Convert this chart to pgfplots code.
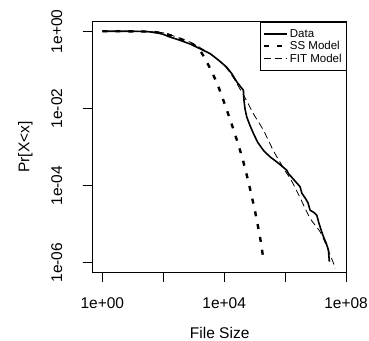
\documentclass[border=0pt]{standalone}
\usepackage{pgfplots}
\pgfplotsset{compat=1.18}
\usepackage{fontspec}
\setmainfont{Liberation Sans}
\pgfplotstableread{
lx ly
0 0
1.0 0
1.5 -0.01
1.8 -0.04
2.0 -0.08
2.22 -0.15
2.5 -0.22
2.88 -0.33
3.2 -0.45
3.54 -0.58
3.8 -0.74
4.08 -0.93
4.25 -1.1
4.42 -1.32
4.55 -1.45
4.63 -1.53
4.65 -1.79
4.68 -2.0
4.74 -2.22
4.85 -2.45
4.96 -2.65
5.1 -2.88
5.29 -3.09
5.51 -3.26
5.73 -3.39
5.9 -3.5
6.05 -3.6
6.11 -3.69
6.3 -3.86
6.49 -4.03
6.55 -4.2
6.68 -4.35
6.75 -4.45
6.82 -4.64
6.95 -4.7
7.04 -4.77
7.1 -4.95
7.18 -5.15
7.26 -5.33
7.35 -5.5
7.42 -5.67
7.45 -5.97
}\datatab
\pgfplotstableread{
lx ly
0 0
1 -0.002
1.5 -0.01
2 -0.05
2.44 -0.16
2.88 -0.3
3.05 -0.38
3.21 -0.5
3.37 -0.71
3.6 -1.06
3.8 -1.42
4.0 -1.85
4.2 -2.3
4.4 -2.78
4.6 -3.3
4.8 -3.92
5.0 -4.62
5.1 -5.02
5.2 -5.45
5.29 -5.93
}\sstab
\pgfplotstableread{
lx ly
0 0
1 -0.002
1.5 -0.01
2 -0.04
2.44 -0.15
2.88 -0.28
3.2 -0.42
3.6 -0.62
4.0 -0.88
4.3 -1.2
4.52 -1.5
4.75 -1.82
4.96 -2.14
5.29 -2.57
5.61 -3.09
5.83 -3.39
6.0 -3.62
6.2 -3.86
6.5 -4.33
6.82 -4.85
7.15 -5.2
7.35 -5.55
7.58 -6.0
7.64 -6.15
}\fittab
\begin{document}
\begin{tikzpicture}[x=1bp,y=1bp]
\path[use as bounding box] (0,0) rectangle (369,341);
\begin{axis}[
  at={(92.7bp,69bp)}, anchor=south west,
  scale only axis, width=254bp, height=250bp,
  xmin=-0.315, xmax=8.02, ymin=-6.24, ymax=0.24,
  xtick={0,2,4,6,8}, xticklabels={1e+00,,1e+04,,1e+08},
  ytick={-6,-4,-2,0}, yticklabels={1e-06,1e-04,1e-02,1e+00},
  tick align=outside, xtick pos=left, ytick pos=left,
  major tick length=10bp,
  every tick/.style={black, line width=0.8bp},
  axis line style={black, line width=1bp},
  ticklabel style={font=\fontsize{15.5bp}{18bp}\selectfont},
  xticklabel style={anchor=center, yshift=-21bp},
  yticklabel style={rotate=90, anchor=center, yshift=26bp},
  xlabel={File Size}, ylabel={Pr[X<x]},
  label style={font=\fontsize{15.5bp}{18bp}\selectfont},
  xlabel style={at={(axis description cs:0.5,-0.244)}, anchor=center},
  ylabel style={at={(axis description cs:-0.265,0.5)}, anchor=center},
  clip=true,
  legend style={at={(1,1)}, anchor=north east, draw=black, line width=1bp,
    font=\fontsize{11.5bp}{12bp}\selectfont, inner xsep=2.5bp, inner ysep=5bp,
    row sep=-1.5bp, cells={anchor=west}},
  legend cell align=left,
  legend image code/.code={\draw[#1] (0bp,0bp) -- (23bp,0bp);},
]
\addplot[black, line width=1.6bp, line join=round] table[x=lx,y=ly] {\datatab};
\addlegendentry{Data}
\addplot[black, line width=2.4bp, dash pattern=on 5bp off 8bp, smooth, tension=0.4] table[x=lx,y=ly] {\sstab};
\addlegendentry{SS Model}
\addplot[black, line width=0.8bp, dash pattern=on 7bp off 4bp, smooth, tension=0.4] table[x=lx,y=ly] {\fittab};
\addlegendentry{FIT Model}
\end{axis}
\end{tikzpicture}
\end{document}
